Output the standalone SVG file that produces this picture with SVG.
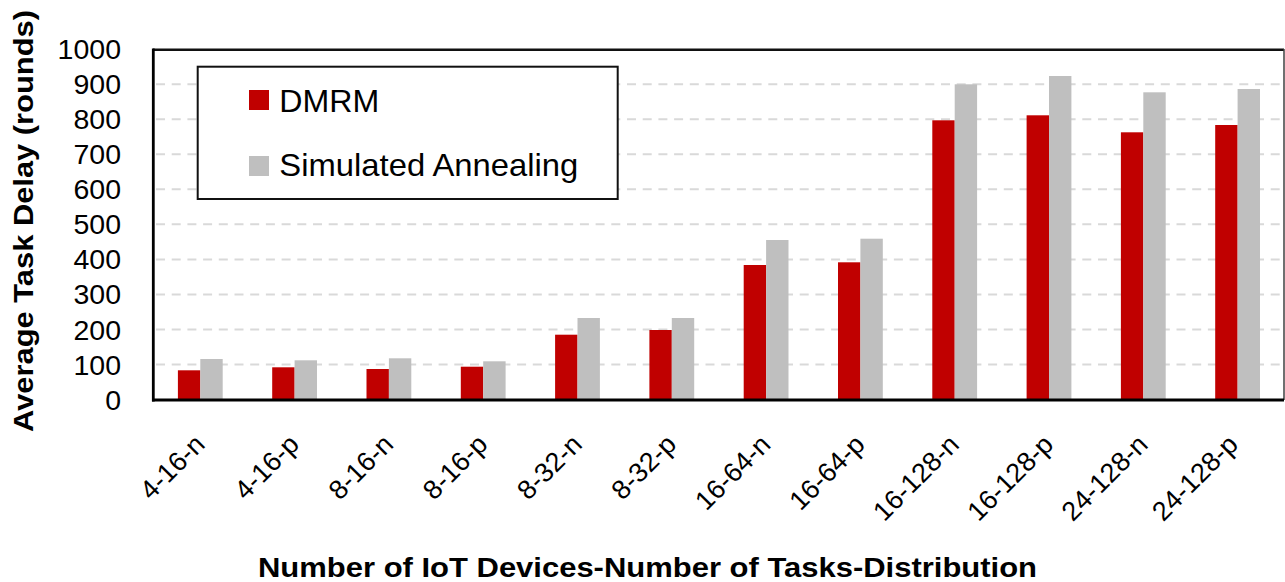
<svg xmlns="http://www.w3.org/2000/svg" width="1285" height="582" viewBox="0 0 1285 582">
  <style>
    text { font-family: "Liberation Sans", Arial, sans-serif; fill: #000; }
    .ytick { font-size: 28.5px; text-anchor: end; }
    .xtick { font-size: 27px; text-anchor: end; }
    .title { font-size: 28px; font-weight: bold; text-anchor: middle; }
    .legend-text { font-size: 31.5px; }
    .grid line { stroke: #D9D9D9; stroke-width: 2; stroke-dasharray: 9 6.7; }
    .dmrm { fill: #C00000; }
    .sa { fill: #BFBFBF; }
  </style>

  <rect x="0" y="0" width="1285" height="582" fill="#FFFFFF"/>

  <!-- horizontal gridlines every 100 rounds -->
  <g id="gridlines" class="grid">
    <line x1="156" y1="364.55" x2="1283" y2="364.55"/>
    <line x1="156" y1="329.5" x2="1283" y2="329.5"/>
    <line x1="156" y1="294.45" x2="1283" y2="294.45"/>
    <line x1="156" y1="259.4" x2="1283" y2="259.4"/>
    <line x1="156" y1="224.35" x2="1283" y2="224.35"/>
    <line x1="156" y1="189.3" x2="1283" y2="189.3"/>
    <line x1="156" y1="154.25" x2="1283" y2="154.25"/>
    <line x1="156" y1="119.2" x2="1283" y2="119.2"/>
    <line x1="156" y1="84.15" x2="1283" y2="84.15"/>
  </g>

  <!-- DMRM bars (left of each category centre) -->
  <g id="series-dmrm" class="dmrm">
    <rect x="177.9" y="370.3" width="22.4" height="29.7"/>
    <rect x="272.2" y="367.3" width="22.4" height="32.7"/>
    <rect x="366.5" y="369" width="22.4" height="31"/>
    <rect x="460.8" y="366.7" width="22.4" height="33.3"/>
    <rect x="555.1" y="334.7" width="22.4" height="65.3"/>
    <rect x="649.4" y="330" width="22.4" height="70"/>
    <rect x="743.7" y="265" width="22.4" height="135"/>
    <rect x="838" y="262.3" width="22.4" height="137.7"/>
    <rect x="932.3" y="120.3" width="22.4" height="279.7"/>
    <rect x="1026.6" y="115.3" width="22.4" height="284.7"/>
    <rect x="1120.9" y="132.3" width="22.4" height="267.7"/>
    <rect x="1215.2" y="125" width="22.4" height="275"/>
  </g>

  <!-- Simulated Annealing bars (right of each category centre) -->
  <g id="series-sa" class="sa">
    <rect x="200.3" y="359" width="22.4" height="41"/>
    <rect x="294.6" y="360.3" width="22.4" height="39.7"/>
    <rect x="388.9" y="358.3" width="22.4" height="41.7"/>
    <rect x="483.2" y="361.3" width="22.4" height="38.7"/>
    <rect x="577.5" y="318" width="22.4" height="82"/>
    <rect x="671.8" y="318" width="22.4" height="82"/>
    <rect x="766.1" y="240" width="22.4" height="160"/>
    <rect x="860.4" y="238.7" width="22.4" height="161.3"/>
    <rect x="954.7" y="84.3" width="22.4" height="315.7"/>
    <rect x="1049" y="76" width="22.4" height="324"/>
    <rect x="1143.3" y="92.3" width="22.4" height="307.7"/>
    <rect x="1237.6" y="89" width="22.4" height="311"/>
  </g>

  <!-- plot frame and axes -->
  <g id="axes">
    <line x1="153" y1="49.7" x2="1284" y2="49.7" stroke="#111" stroke-width="2.5"/>
    <line x1="1284" y1="49" x2="1284" y2="400" stroke="#404040" stroke-width="1.5"/>
    <line x1="153.3" y1="48.5" x2="153.3" y2="401.5" stroke="#000" stroke-width="2.8"/>
    <line x1="152" y1="400" x2="1284" y2="400" stroke="#000" stroke-width="2.8"/>
  </g>

  <!-- y axis tick labels -->
  <g id="y-ticks" class="ytick-group">
    <text class="ytick" x="121" y="409.6">0</text>
    <text class="ytick" x="121" y="374.55">100</text>
    <text class="ytick" x="121" y="339.5">200</text>
    <text class="ytick" x="121" y="304.45">300</text>
    <text class="ytick" x="121" y="269.4">400</text>
    <text class="ytick" x="121" y="234.35">500</text>
    <text class="ytick" x="121" y="199.3">600</text>
    <text class="ytick" x="121" y="164.25">700</text>
    <text class="ytick" x="121" y="129.2">800</text>
    <text class="ytick" x="121" y="94.15">900</text>
    <text class="ytick" x="121" y="59.1">1000</text>
  </g>

  <!-- x axis category labels, rotated 45 degrees -->
  <g id="x-ticks">
    <text class="xtick" transform="translate(206.3,446) rotate(-45)">4-16-n</text>
    <text class="xtick" transform="translate(300.6,446) rotate(-45)">4-16-p</text>
    <text class="xtick" transform="translate(394.9,446) rotate(-45)">8-16-n</text>
    <text class="xtick" transform="translate(489.2,446) rotate(-45)">8-16-p</text>
    <text class="xtick" transform="translate(583.5,446) rotate(-45)">8-32-n</text>
    <text class="xtick" transform="translate(677.8,446) rotate(-45)">8-32-p</text>
    <text class="xtick" transform="translate(772.1,446) rotate(-45)">16-64-n</text>
    <text class="xtick" transform="translate(866.4,446) rotate(-45)">16-64-p</text>
    <text class="xtick" transform="translate(960.7,446) rotate(-45)">16-128-n</text>
    <text class="xtick" transform="translate(1055,446) rotate(-45)">16-128-p</text>
    <text class="xtick" transform="translate(1149.3,446) rotate(-45)">24-128-n</text>
    <text class="xtick" transform="translate(1239.6,446) rotate(-45)">24-128-p</text>
  </g>

  <!-- axis titles -->
  <g id="axis-titles">
    <text class="title" transform="translate(33,221) rotate(-90)" textLength="422" lengthAdjust="spacingAndGlyphs">Average Task Delay (rounds)</text>
    <text class="title" x="647.5" y="577" textLength="779" lengthAdjust="spacingAndGlyphs">Number of IoT Devices-Number of Tasks-Distribution</text>
  </g>

  <!-- legend -->
  <g id="legend">
    <rect x="197.7" y="66.7" width="420" height="132.3" fill="#FFFFFF" stroke="#111" stroke-width="2"/>
    <g id="legend-dmrm">
      <rect class="dmrm" x="249" y="90" width="20" height="20"/>
      <text class="legend-text" x="279.3" y="111.7" textLength="100" lengthAdjust="spacingAndGlyphs">DMRM</text>
    </g>
    <g id="legend-sa">
      <rect class="sa" x="249" y="156" width="20" height="20"/>
      <text class="legend-text" x="279.3" y="175.5" textLength="299" lengthAdjust="spacingAndGlyphs">Simulated Annealing</text>
    </g>
  </g>
</svg>
